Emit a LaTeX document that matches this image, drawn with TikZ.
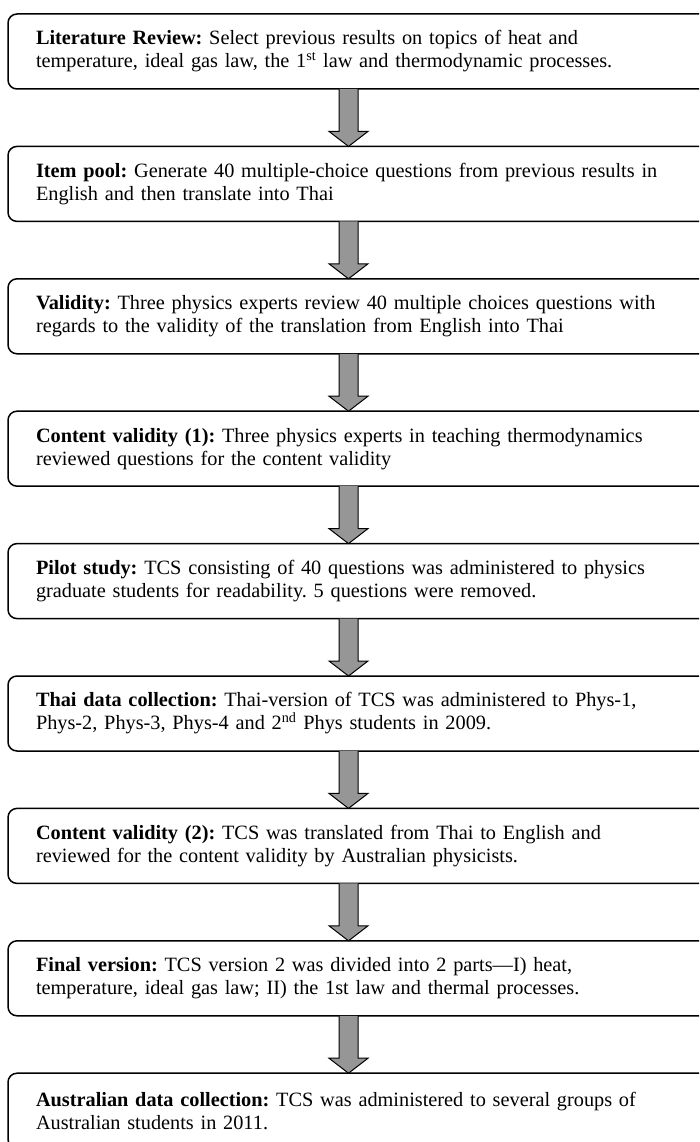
\documentclass[tikz,border=0pt]{standalone}
\usepackage{fontspec}
\setmainfont{Liberation Serif}
\usepackage{tikz}
\usetikzlibrary{positioning,calc}

\definecolor{arrowgray}{RGB}{150,150,150}

\tikzset{
	stagebox/.style={draw, line width=1.5pt, rounded corners=9pt, anchor=north west,
		text width=660pt, inner xsep=28pt, inner ysep=0pt, outer sep=0pt, minimum height=75pt,
		align=left, font=\fontsize{20.3}{23}\selectfont\frenchspacing},
	flowarrow/.style={draw, line width=1pt, fill=arrowgray, line join=miter}
}

% block arrow from the bottom of one box to the top of the next
\newcommand{\stagearrow}[2]{
	\draw[flowarrow] ($(#1.south west)+(331,0)$) -- ($(#2.north west)+(331,-15)$)
		-- ($(#2.north west)+(321,-15)$) -- ($(#2.north west)+(340.5,0)$)
		-- ($(#2.north west)+(360,-15)$) -- ($(#2.north west)+(350,-15)$)
		-- ($(#1.south west)+(350,0)$);
}

\begin{document}
\begin{tikzpicture}[x=1pt, y=-1pt, node distance=57.4pt]
	\useasboundingbox (0,0) rectangle (699,1142);
	\clip (0,0) rectangle (699,1142);

	\node[stagebox] (lit) at (8,14) {\textbf{Literature Review:} Select previous results on topics of heat and\\temperature, ideal gas law, the 1\textsuperscript{st} law and thermodynamic processes.};
	\node[stagebox, below=of lit] (pool) {\textbf{Item pool:} Generate 40 multiple-choice questions from previous results in\\English and then translate into Thai};
	\node[stagebox, below=of pool] (valid) {\textbf{Validity:} Three physics experts review 40 multiple choices questions with\\regards to the validity of the translation from English into Thai};
	\node[stagebox, below=of valid] (cont1) {\textbf{Content validity (1):} Three physics experts in teaching thermodynamics\\reviewed questions for the content validity};
	\node[stagebox, below=of cont1] (pilot) {\textbf{Pilot study:} TCS consisting of 40 questions was administered to physics\\graduate students for readability. 5 questions were removed.};
	\node[stagebox, below=of pilot] (thai) {\textbf{Thai data collection:} Thai-version of TCS was administered to Phys-1,\\Phys-2, Phys-3, Phys-4 and 2\textsuperscript{nd} Phys students in 2009.};
	\node[stagebox, below=of thai] (cont2) {\textbf{Content validity (2):} TCS was translated from Thai to English and\\reviewed for the content validity by Australian physicists.};
	\node[stagebox, below=of cont2] (final) {\textbf{Final version:} TCS version 2 was divided into 2 parts---I) heat,\\temperature, ideal gas law; II) the 1st law and thermal processes.};
	\node[stagebox, below=of final] (aus) {\textbf{Australian data collection:} TCS was administered to several groups of\\Australian students in 2011.};

	\stagearrow{lit}{pool}
	\stagearrow{pool}{valid}
	\stagearrow{valid}{cont1}
	\stagearrow{cont1}{pilot}
	\stagearrow{pilot}{thai}
	\stagearrow{thai}{cont2}
	\stagearrow{cont2}{final}
	\stagearrow{final}{aus}
\end{tikzpicture}
\end{document}
